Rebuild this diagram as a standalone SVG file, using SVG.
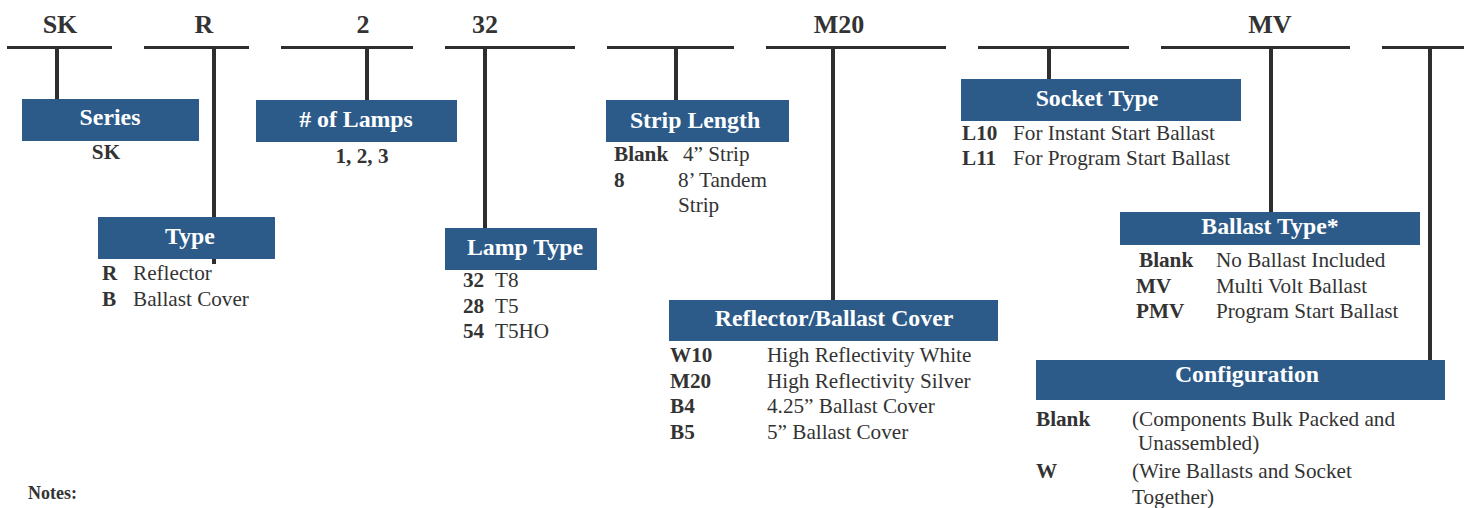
<svg xmlns="http://www.w3.org/2000/svg" width="1464" height="508" viewBox="0 0 1464 508" font-family="'Liberation Serif', 'DejaVu Serif', serif">
<style>
text{font-family:"Liberation Serif","DejaVu Serif",serif;fill:#333333}
.code{font-size:26px;font-weight:bold;text-anchor:middle}
.box{fill:#2c5b8a}
.title{font-size:23.8px;font-weight:bold;fill:#ffffff;text-anchor:middle}
.b{font-size:21.2px;font-weight:bold}
.r{font-size:21.2px}
.hl{stroke:#2e2e2e;stroke-width:3;fill:none}
.vl{stroke:#2e2e2e;stroke-width:4;fill:none}
</style>
<g id="codes">
<text class="code" x="60" y="33">SK</text>
<text class="code" x="204" y="33">R</text>
<text class="code" x="363" y="33">2</text>
<text class="code" x="485" y="33">32</text>
<text class="code" x="839" y="33">M20</text>
<text class="code" x="1270" y="33">MV</text>
</g>
<g id="connectors">
<path class="hl" d="M7 47.5H112M144 47.5H249M281 47.5H413M445 47.5H575M607 47.5H734M766 47.5H946M978 47.5H1129M1161 47.5H1350M1382 47.5H1464"/>
<path class="vl" d="M57 48V99M214 48V264M367 48V100M485 48V228M676 48V100M833 48V300M1049 48V79M1271 48V212M1430 48V360"/>
</g>
<g id="series">
<rect class="box" x="22" y="99" width="177" height="42"/>
<text class="title" x="110" y="125">Series</text>
<text class="b" x="106" y="159" text-anchor="middle">SK</text>
</g>
<g id="lamps">
<rect class="box" x="256" y="100" width="201" height="42"/>
<text class="title" x="356" y="127"># of Lamps</text>
<text class="b" x="362" y="163" text-anchor="middle">1, 2, 3</text>
</g>
<g id="type">
<rect class="box" x="98" y="217" width="177" height="42"/>
<text class="title" x="190" y="244">Type</text>
<text class="b" x="102" y="280">R</text><text class="r" x="133" y="280">Reflector</text>
<text class="b" x="102" y="306">B</text><text class="r" x="133" y="306">Ballast Cover</text>
</g>
<g id="lamptype">
<rect class="box" x="445" y="228" width="152" height="42"/>
<text class="title" x="525" y="255">Lamp Type</text>
<text class="b" x="463" y="287">32</text><text class="r" x="495" y="287">T8</text>
<text class="b" x="463" y="313">28</text><text class="r" x="495" y="313">T5</text>
<text class="b" x="463" y="338">54</text><text class="r" x="495" y="338">T5HO</text>
</g>
<g id="strip">
<rect class="box" x="606" y="100" width="183" height="42"/>
<text class="title" x="695" y="128">Strip Length</text>
<text class="b" x="614" y="161">Blank</text><text class="r" x="683" y="161">4” Strip</text>
<text class="b" x="614" y="187">8</text><text class="r" x="678" y="187">8’ Tandem</text>
<text class="r" x="678" y="212">Strip</text>
</g>
<g id="reflector">
<rect class="box" x="669" y="300" width="329" height="41"/>
<text class="title" x="834" y="326">Reflector/Ballast Cover</text>
<text class="b" x="670" y="362">W10</text><text class="r" x="767" y="362">High Reflectivity White</text>
<text class="b" x="670" y="388">M20</text><text class="r" x="767" y="388">High Reflectivity Silver</text>
<text class="b" x="670" y="413">B4</text><text class="r" x="767" y="413">4.25” Ballast Cover</text>
<text class="b" x="670" y="439">B5</text><text class="r" x="767" y="439">5” Ballast Cover</text>
</g>
<g id="socket">
<rect class="box" x="961" y="79" width="280" height="42"/>
<text class="title" x="1097" y="106">Socket Type</text>
<text class="b" x="962" y="140">L10</text><text class="r" x="1013" y="140">For Instant Start Ballast</text>
<text class="b" x="962" y="165">L11</text><text class="r" x="1013" y="165">For Program Start Ballast</text>
</g>
<g id="ballast">
<rect class="box" x="1120" y="212" width="300" height="33"/>
<text class="title" x="1270" y="234">Ballast Type*</text>
<text class="b" x="1139" y="267">Blank</text><text class="r" x="1216" y="267">No Ballast Included</text>
<text class="b" x="1136" y="293">MV</text><text class="r" x="1216" y="293">Multi Volt Ballast</text>
<text class="b" x="1136" y="318">PMV</text><text class="r" x="1216" y="318">Program Start Ballast</text>
</g>
<g id="configuration">
<rect class="box" x="1036" y="360" width="409" height="40"/>
<text class="title" x="1247" y="382">Configuration</text>
<text class="b" x="1036" y="426">Blank</text><text class="r" x="1132" y="426">(Components Bulk Packed and</text>
<text class="r" x="1138" y="450">Unassembled)</text>
<text class="b" x="1036" y="478">W</text><text class="r" x="1132" y="478">(Wire Ballasts and Socket</text>
<text class="r" x="1132" y="504">Together)</text>
</g>
<g id="notes">
<text x="28" y="499" style="font-size:18px;font-weight:bold">Notes:</text>
</g>
</svg>
